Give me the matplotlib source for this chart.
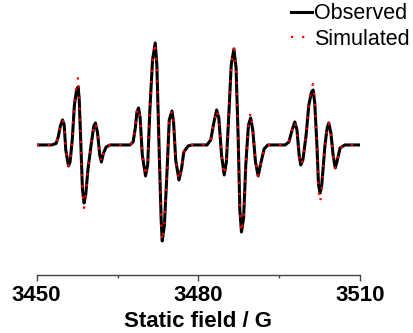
import matplotlib
matplotlib.use("Agg")
import matplotlib.pyplot as plt
from matplotlib.ticker import MultipleLocator

# EPR spectrum: field (G) and intensity (arb. units)
field = [3450.0, 3452.8, 3453.6, 3454.0, 3454.4, 3454.8, 3455.1, 3455.4, 3455.9, 3456.2,
         3456.6, 3457.0, 3457.4, 3457.7, 3457.9, 3458.2, 3458.5, 3458.8, 3459.1, 3459.5,
         3460.1, 3460.6, 3460.9, 3461.3, 3461.7, 3462.0, 3462.4, 3462.9, 3463.6,
         3467.3, 3467.9, 3468.3, 3468.6, 3468.9, 3469.2, 3469.6, 3470.2, 3470.6, 3471.0,
         3471.5, 3472.0, 3472.3, 3472.7, 3473.1, 3473.3, 3473.7, 3474.2, 3474.6, 3475.1,
         3475.4, 3475.8, 3476.4, 3476.9, 3477.3, 3478.1, 3478.8,
         3481.6, 3482.3, 3482.9, 3483.4, 3483.8, 3484.3, 3484.8, 3485.2, 3485.7, 3486.1,
         3486.6, 3487.0, 3487.4, 3487.7, 3488.0, 3488.4, 3488.8, 3489.3, 3489.7, 3490.1,
         3490.6, 3491.1, 3491.6, 3492.2, 3492.9,
         3496.1, 3496.8, 3497.4, 3497.9, 3498.3, 3498.7, 3499.0, 3499.4, 3500.0, 3500.5,
         3501.0, 3501.3, 3501.6, 3502.0, 3502.3, 3502.6, 3502.9, 3503.5, 3503.9, 3504.2,
         3504.6, 3505.0, 3505.4, 3505.8, 3506.3, 3507.2, 3510.0]

observed = [0, 0, 1.5, 8, 19, 25, 20, -5, -21, -17,
            5, 40, 55, 58, 45, 0, -45, -58, -50, -25,
            0, 19, 22, 12, -10, -17, -8, -2, 0,
            0, 3, 17, 33, 37, 27, -10, -31, -20, 35,
            85, 102, 80, 0, -75, -96, -80, -25, 25, 34,
            23, -15, -35, -23, -7, -1, 0,
            0, 5, 23, 35, 27, -10, -30, -17, 35, 80,
            96, 77, 5, -65, -87, -73, -20, 20, 27, 15,
            -17, -31, -18, -4, 0,
            0, 3, 15, 23, 15, -10, -20, -15, 10, 40,
            53, 55, 42, 0, -40, -48, -40, 0, 17, 22,
            12, -10, -23, -15, -3, 0, 0]

simulated = [0, 0, 1.5, 8, 19, 25, 20, -5, -21, -17,
             5, 42, 60, 68, 50, 0, -48, -63, -52, -25,
             0, 19, 22, 12, -10, -17, -8, -2, 0,
             0, 3, 17, 33, 37, 27, -10, -31, -20, 35,
             85, 102, 80, 0, -75, -96, -80, -25, 25, 34,
             23, -15, -35, -23, -7, -1, 0,
             0, 5, 23, 35, 27, -10, -30, -17, 35, 80,
             96, 77, 5, -65, -87, -73, -20, 22, 32, 17,
             -17, -31, -18, -4, 0,
             0, 3, 15, 23, 15, -10, -20, -15, 10, 42,
             58, 61, 46, 0, -45, -57, -45, 0, 17, 22,
             12, -10, -23, -15, -3, 0, 0]

plt.rcParams['font.family'] = ['Liberation Sans', 'DejaVu Sans']

fig = plt.figure(figsize=(4.14, 3.33), dpi=100)
ax = fig.add_axes([0.0886, 0.1742, 0.781, 0.811])

ax.plot(field, observed, color='black', lw=2.2, solid_joinstyle='round', label='Observed')
ax.plot(field, simulated, color='red', lw=1.6, linestyle=(0, (1, 4)), label='Simulated')

ax.set_xlim(3450, 3510)
ax.set_ylim(-130, 140)
for s in ['left', 'right', 'top']:
    ax.spines[s].set_visible(False)
ax.spines['bottom'].set_color('#444444')
ax.spines['bottom'].set_linewidth(1.0)
ax.set_yticks([])
ax.xaxis.set_major_locator(MultipleLocator(30))
ax.xaxis.set_minor_locator(MultipleLocator(15))
ax.tick_params(axis='x', which='major', length=4, width=1, color='#444444', pad=3,
               labelsize=16)
ax.tick_params(axis='x', which='minor', length=2.5, width=1, color='#444444')
for lab in ax.get_xticklabels():
    lab.set_fontweight('bold')
ax.set_xlabel('Static field / G', fontsize=16, fontweight='bold', labelpad=4)

ax.legend(loc='upper right', bbox_to_anchor=(0.99, 0.99), bbox_transform=fig.transFigure,
          frameon=False, fontsize=15.5, handlelength=1.0, handletextpad=0.1,
          labelspacing=0.2, borderpad=0, borderaxespad=0)

fig.savefig('out.png', dpi=100)
